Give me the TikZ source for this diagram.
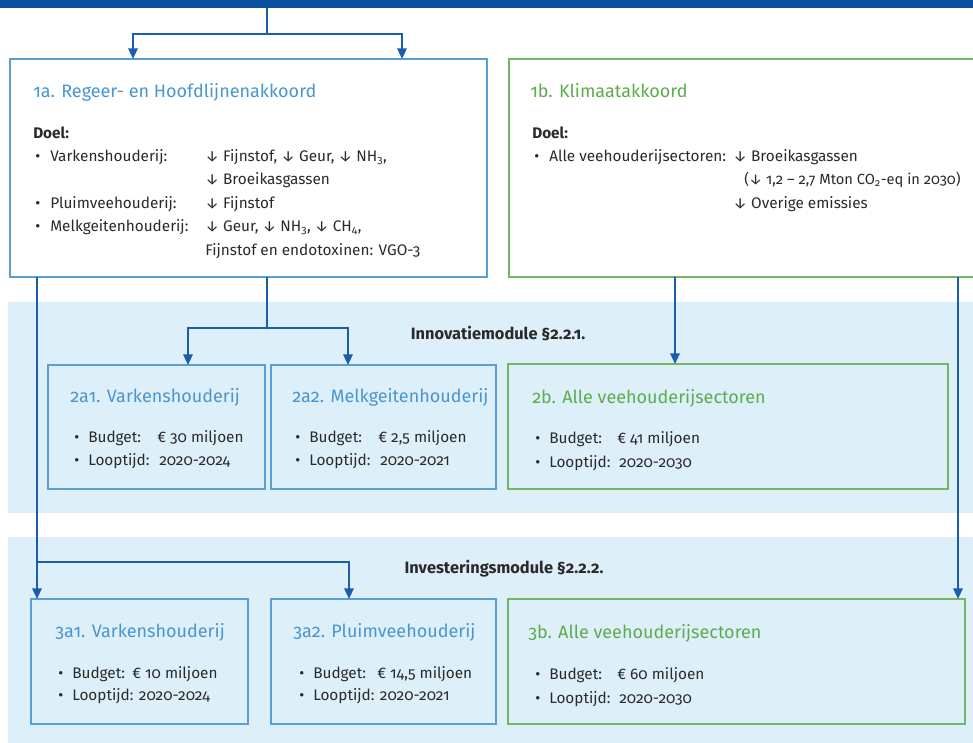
\documentclass[tikz,border=0pt]{standalone}
\usepackage{fontspec}
\setmainfont{Fira Sans}[Numbers=OldStyle]
\usetikzlibrary{arrows.meta}
\definecolor{barblue}{HTML}{0B509F}
\definecolor{lineblue}{HTML}{1A5DAA}
\definecolor{boxblue}{HTML}{5A9FD4}
\definecolor{titleblue}{HTML}{4A96D0}
\definecolor{boxgreen}{HTML}{72B865}
\definecolor{titlegreen}{HTML}{5CAD4E}
\definecolor{bandblue}{HTML}{DDEFF9}
\definecolor{bodytext}{HTML}{2A2A2A}
\begin{document}
\begin{tikzpicture}[x=0.75pt,y=-0.75pt,
  frame/.style={anchor=north west, inner sep=0pt, outer sep=0pt, line width=1.2pt},
  bframe/.style={frame, draw=boxblue},
  gframe/.style={frame, draw=boxgreen},
  band/.style={anchor=north west, inner sep=0pt, outer sep=0pt, fill=bandblue},
  txt/.style={anchor=base west, inner sep=0pt, text=bodytext, font=\fontsize{11.5}{14}\selectfont},
  btxt/.style={txt, font=\fontsize{11.5}{14}\selectfont\bfseries},
  mtxt/.style={anchor=base, inner sep=0pt, text=bodytext, font=\fontsize{12.3}{14}\selectfont\bfseries},
  ttl/.style={anchor=base west, inner sep=0pt, text=titleblue, font=\fontsize{13.5}{16}\selectfont},
  gttl/.style={ttl, text=titlegreen},
  ln/.style={draw=lineblue, line width=1.6pt},
  arr/.style={ln, -{Triangle[width=7pt,length=8pt]}}
]
\useasboundingbox (0,0) rectangle (973,742);
\fill[white] (0,0) rectangle (973,742);

% bands
\node[band, minimum width=965*0.75pt, minimum height=211*0.75pt] (band1) at (8,302) {};
\node[band, minimum width=965*0.75pt, minimum height=206*0.75pt] (band2) at (8,537) {};

% top bar
\node[anchor=north west, inner sep=0pt, outer sep=0pt, fill=barblue, minimum width=973*0.75pt, minimum height=8*0.75pt] (bar) at (0,0) {};

% level 1 boxes
\node[bframe, fill=white, minimum width=477*0.75pt, minimum height=218*0.75pt] (b1a) at (10,59) {};
\node[gframe, fill=white, minimum width=470*0.75pt, minimum height=218*0.75pt] (b1b) at (509,59) {};

% level 2 boxes
\node[bframe, minimum width=217*0.75pt, minimum height=124*0.75pt] (b2a1) at (48,365) {};
\node[bframe, minimum width=225*0.75pt, minimum height=124*0.75pt] (b2a2) at (271,365) {};
\node[gframe, minimum width=440*0.75pt, minimum height=125*0.75pt] (b2b) at (508,364) {};

% level 3 boxes
\node[bframe, minimum width=217*0.75pt, minimum height=125*0.75pt] (b3a1) at (31,599) {};
\node[bframe, minimum width=225*0.75pt, minimum height=125*0.75pt] (b3a2) at (271,599) {};
\node[gframe, minimum width=457*0.75pt, minimum height=125*0.75pt] (b3b) at (508,599) {};

% connectors
\coordinate (j0) at (267,34);
\coordinate (a1) at (133,34);
\coordinate (a2) at (402,34);
\draw[ln] (bar.south -| j0) -- (j0);
\draw[arr] (j0) -- (a1) -- (a1 |- b1a.north);
\draw[arr] (j0) -- (a2) -- (a2 |- b1b.north);

\coordinate (j1) at (267,328);
\coordinate (c1) at (188,328);
\coordinate (c2) at (348,328);
\draw[ln] (b1a.south -| j1) -- (j1);
\draw[arr] (j1) -- (c1) -- (c1 |- b2a1.north);
\draw[arr] (j1) -- (c2) -- (c2 |- b2a2.north);

\coordinate (d1) at (675,300);
\draw[arr] (b1b.south -| d1) -- (d1 |- b2b.north);

\coordinate (e1) at (37,562);
\coordinate (e2) at (349,562);
\draw[arr] (b1a.south -| e1) -- (e1 |- b3a1.north);
\draw[arr] (e1) -- (e2) -- (e2 |- b3a2.north);

\coordinate (f1) at (958,300);
\draw[arr] (b1b.south -| f1) -- (f1 |- b3b.north);

% box 1a text
\node[ttl] (t1a) at (33,98) {1a. Regeer- en Hoofdlijnenakkoord};
\node[btxt] (doel1a) at (33,138) {Doel:};
\node[txt] (p1) at (35,161) {•};
\node[txt] (l1) at (50,161) {Varkenshouderij:};
\node[txt] (r1) at (205,161) {↓ Fijnstof, ↓ Geur, ↓ NH\textsubscript{3},};
\node[txt] (r1b) at (205,184) {↓ Broeikasgassen};
\node[txt] (p2) at (35,208) {•};
\node[txt] (l2) at (50,208) {Pluimveehouderij:};
\node[txt] (r2) at (205,208) {↓ Fijnstof};
\node[txt] (p3) at (35,231) {•};
\node[txt] (l3) at (50,231) {Melkgeitenhouderij:};
\node[txt] (r3) at (205,231) {↓ Geur, ↓ NH\textsubscript{3}, ↓ CH\textsubscript{4},};
\node[txt] (r3b) at (205,255) {Fijnstof en endotoxinen: VGO-3};

% box 1b text
\node[gttl] (t1b) at (530,98) {1b. Klimaatakkoord};
\node[btxt] (doel1b) at (532,138) {Doel:};
\node[txt] (p4) at (534,161) {•};
\node[txt] (l4) at (549,161) {Alle veehouderijsectoren:};
\node[txt] (r4) at (733,161) {↓ Broeikasgassen};
\node[txt, font=\fontsize{11}{14}\selectfont] (r4b) at (744,184) {(↓ 1,2 – 2,7 Mton CO\textsubscript{2}-eq in 2030)};
\node[txt] (r4c) at (733,208) {↓ Overige emissies};

% module labels
\node[mtxt] (m1) at (498,339) {Innovatiemodule §2.2.1.};
\node[mtxt] (m2) at (504,573) {Investeringsmodule §2.2.2.};

% box 2a1
\node[ttl] (t2a1) at (70,402) {2a1. Varkenshouderij};
\node[txt] (q1) at (74,442) {•};
\node[txt] (k1) at (88,442) {Budget:};
\node[txt] (v1) at (157,442) {€ 30 miljoen};
\node[txt] (q2) at (74,465) {•};
\node[txt] (k2) at (88,465) {Looptijd:};
\node[txt] (v2) at (159,465) {2020-2024};

% box 2a2
\node[ttl] (t2a2) at (292,402) {2a2. Melkgeitenhouderij};
\node[txt] (q3) at (295,442) {•};
\node[txt] (k3) at (309,442) {Budget:};
\node[txt] (v3) at (378,442) {€ 2,5 miljoen};
\node[txt] (q4) at (295,465) {•};
\node[txt] (k4) at (309,465) {Looptijd:};
\node[txt] (v4) at (380,465) {2020-2021};

% box 2b
\node[gttl] (t2b) at (532,403) {2b. Alle veehouderijsectoren};
\node[txt] (q5) at (535,443) {•};
\node[txt] (k5) at (549,443) {Budget:};
\node[txt] (v5) at (617,443) {€ 41 miljoen};
\node[txt] (q6) at (535,467) {•};
\node[txt] (k6) at (549,467) {Looptijd:};
\node[txt] (v6) at (619,467) {2020-2030};

% box 3a1
\node[ttl] (t3a1) at (55,637) {3a1. Varkenshouderij};
\node[txt] (q7) at (58,678) {•};
\node[txt] (k7) at (72,678) {Budget:};
\node[txt] (v7) at (132,678) {€ 10 miljoen};
\node[txt] (q8) at (58,700) {•};
\node[txt] (k8) at (72,700) {Looptijd: 2020-2024};

% box 3a2
\node[ttl] (t3a2) at (293,637) {3a2. Pluimveehouderij};
\node[txt] (q9) at (299,678) {•};
\node[txt] (k9) at (313,678) {Budget:};
\node[txt] (v9) at (377,678) {€ 14,5 miljoen};
\node[txt] (q10) at (299,700) {•};
\node[txt] (k10) at (313,700) {Looptijd: 2020-2021};

% box 3b
\node[gttl] (t3b) at (528,638) {3b. Alle veehouderijsectoren};
\node[txt] (q11) at (535,679) {•};
\node[txt] (k11) at (549,679) {Budget:};
\node[txt] (v11) at (617,679) {€ 60 miljoen};
\node[txt] (q12) at (535,703) {•};
\node[txt] (k12) at (549,703) {Looptijd:};
\node[txt] (v12) at (619,703) {2020-2030};
\end{tikzpicture}
\end{document}
